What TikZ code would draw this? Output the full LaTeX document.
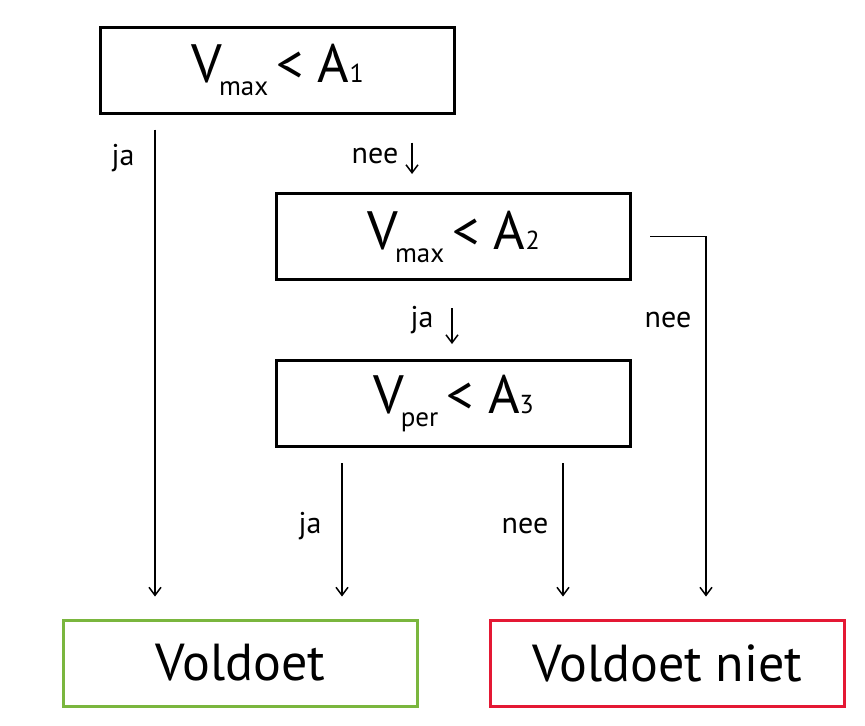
\documentclass[tikz,border=0pt]{standalone}
\usepackage{fontspec}
\setmainfont{PT Sans}
\usetikzlibrary{arrows.meta}
\definecolor{okgreen}{RGB}{122,182,62}
\definecolor{nokred}{RGB}{228,24,52}
\newcommand{\bigtxt}{\fontsize{27}{30}\selectfont}
\newcommand{\subtxt}[1]{\kern-1.5pt\raisebox{-6.5pt}{\fontsize{13.5}{14}\selectfont #1}\kern4pt}
\newcommand{\idx}[1]{{\fontsize{13}{14}\selectfont #1}}

\begin{document}
\begin{tikzpicture}[x=0.5pt, y=-0.5pt,
    box/.style={draw, line width=1.5pt, minimum width=177pt, minimum height=43pt, inner sep=0pt, font=\bigtxt},
    endbox/.style={draw, line width=1.5pt, minimum width=177pt, minimum height=43pt, inner sep=0pt, font=\fontsize{26}{29}\selectfont},
    flow/.style={-{Straight Barb[length=4pt,width=6pt]}, line width=0.75pt},
    lbl/.style={font=\fontsize{15}{17}\selectfont}]

    \useasboundingbox (0,0) rectangle (865,725);

    % Nodes
    \node[box] (vmax1) at (277.5,70) {V\subtxt{max}< A\idx{1}};
    \node[box] (vmax2) at (453.5,236.5) {V\subtxt{max}< A\idx{2}};
    \node[box] (vper) at (453.5,403.5) {V\subtxt{per}< A\idx{3}};
    \node[endbox, draw=okgreen] (ok) at (240.5,663) {Voldoet};
    \node[endbox, draw=nokred] (nok) at (667.5,663) {Voldoet niet};

    % Columns of the arrows
    \coordinate (xja1) at (155,0);
    \coordinate (xnee1) at (412,0);
    \coordinate (xja2) at (452,0);
    \coordinate (xnee2) at (706,0);
    \coordinate (xja3) at (342,0);
    \coordinate (xnee3) at (563,0);

    % Arrows
    \draw[flow, shorten <=7.5pt, shorten >=11pt] (vmax1.south -| xja1) -- (ok.north -| xja1);
    \draw[flow, shorten <=14pt, shorten >=9pt] (vmax1.south -| xnee1) -- (vmax2.north -| xnee1);
    \draw[flow, shorten <=13.5pt, shorten >=7.5pt] (vmax2.south -| xja2) -- (vper.north -| xja2);
    \draw[flow, shorten <=9pt, shorten >=11pt] (vmax2.east) -| (nok.north -| xnee2);
    \draw[flow, shorten <=7.5pt, shorten >=11pt] (vper.south -| xja3) -- (ok.north -| xja3);
    \draw[flow, shorten <=7.5pt, shorten >=11pt] (vper.south -| xnee3) -- (nok.north -| xnee3);

    % Labels
    \node[lbl] (ja1) at (123,158) {ja};
    \node[lbl] (nee1) at (375,156) {nee};
    \node[lbl] (ja2) at (422,320) {ja};
    \node[lbl] (nee2) at (668,320) {nee};
    \node[lbl] (ja3) at (310,526) {ja};
    \node[lbl] (nee3) at (525,526) {nee};

\end{tikzpicture}
\end{document}
